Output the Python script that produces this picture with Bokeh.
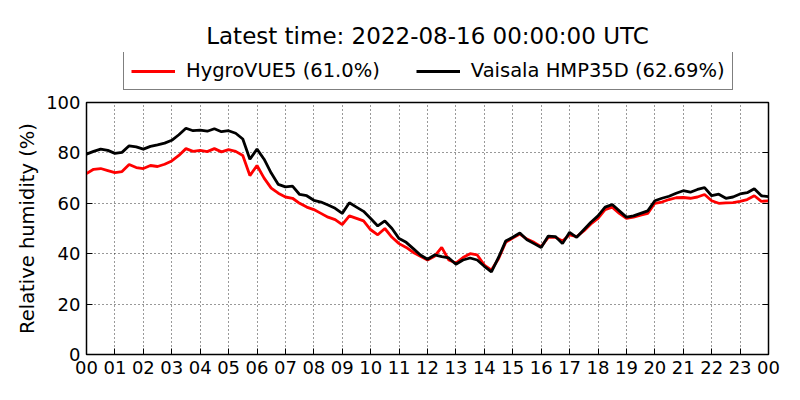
import numpy as np
from bokeh.plotting import figure
from bokeh.layouts import column
from bokeh.models import (Legend, LegendItem, FixedTicker, ColumnDataSource,
                          LinearAxis)
from bokeh.embed import file_html
from bokeh.resources import INLINE

title_text = "Latest time: 2022-08-16 00:00:00 UTC"
y_label = "Relative humidity (%)"
series_names = ["HygroVUE5 (61.0%)", "Vaisala HMP35D (62.69%)"]
series_colors = ["#ff0000", "black"]
x_tick_hours = list(range(0, 25))
x_tick_labels = ["%02d" % (h % 24) for h in x_tick_hours]
y_ticks = [0, 20, 40, 60, 80, 100]

# hour of day, 15-minute steps
hours = np.linspace(0, 24, 97)

hygrovue5 = [
    71.8, 73.5, 73.8, 73.0, 72.2, 72.6, 75.4, 74.2, 73.8, 75.0, 74.6, 75.5,
    76.8, 79.0, 81.7, 80.6, 81.0, 80.5, 81.7, 80.4, 81.3, 80.6, 79.0, 71.0,
    75.0, 70.0, 66.0, 64.0, 62.5, 62.0, 60.0, 58.5, 57.5, 56.0, 54.5, 53.5,
    51.5, 55.0, 54.0, 53.0, 49.5, 47.5, 50.0, 46.5, 44.0, 42.5, 40.5, 39.0,
    37.5, 39.0, 42.5, 37.5, 36.3, 38.5, 40.0, 39.5, 35.5, 33.5, 38.0, 44.5,
    46.2, 47.8, 45.8, 44.5, 42.8, 46.5, 46.5, 45.0, 47.5, 46.8, 49.0, 51.8,
    54.0, 57.5, 58.5, 56.0, 54.0, 54.5, 55.3, 56.0, 60.0, 60.5, 61.5, 62.2,
    62.3, 62.0, 62.5, 63.5, 61.0, 60.0, 60.2, 60.3, 60.8, 61.5, 63.0, 60.8,
    61.0,
]

hmp35d = [
    79.5, 80.6, 81.5, 81.0, 79.8, 80.2, 82.8, 82.4, 81.5, 82.6, 83.2, 83.9,
    85.0, 87.2, 89.8, 88.8, 89.0, 88.6, 89.6, 88.4, 88.8, 87.8, 85.5, 77.5,
    81.5, 77.5, 72.0, 67.5, 66.5, 66.8, 63.5, 63.0, 61.2, 60.5, 59.3, 58.0,
    56.0, 60.2, 58.5, 56.8, 54.0, 51.0, 53.0, 50.0, 46.0, 44.5, 42.0, 39.5,
    37.8, 39.5, 38.8, 38.3, 35.8, 37.5, 38.3, 37.5, 35.0, 32.8, 38.5, 45.0,
    46.5, 48.2, 45.5, 44.0, 42.5, 47.0, 46.8, 44.0, 48.5, 46.5, 49.5, 52.5,
    55.0, 58.5, 59.5, 57.0, 54.5, 55.0, 56.0, 57.0, 61.0, 62.0, 62.8, 64.0,
    65.0, 64.4, 65.5, 66.2, 63.0, 63.6, 62.0, 62.5, 63.7, 64.2, 65.8, 63.0,
    62.69,
]

FONT = "DejaVu Sans"
LW = 2.8

src = ColumnDataSource(dict(h=hours, a=hygrovue5, b=hmp35d))

# ---------------- header figure: title + legend ----------------
head = figure(
    output_backend="svg", toolbar_location=None,
    frame_width=682, frame_height=40,
    min_border_left=86, min_border_right=32,
    min_border_top=52, min_border_bottom=0,
    x_range=(0, 1), y_range=(0, 1),
    x_axis_type=None, y_axis_type=None,
    title=title_text,
)
head.outline_line_color = None
head.xgrid.visible = False
head.ygrid.visible = False
head.background_fill_color = "white"
head.border_fill_color = "white"
head.title.align = "center"
head.title.text_font = FONT
head.title.text_font_size = "23px"
head.title.text_font_style = "normal"
head.title.text_color = "black"
head.title.offset = 0
head.title.standoff = 8

# legend-only renderers (data lies outside this header's ranges)
lr = [head.line("h", col, source=src, line_color=c, line_width=LW)
      for col, c in zip(["a", "b"], series_colors)]
legend = Legend(
    items=[LegendItem(label=n, renderers=[r]) for n, r in zip(series_names, lr)],
    orientation="horizontal", location=(37, 2),
    label_text_font=FONT, label_text_font_size="19.5px",
    label_text_color="black",
    border_line_color="black", border_line_width=1.2,
    background_fill_color="white", background_fill_alpha=1,
    glyph_width=44, glyph_height=20, label_height=20,
    label_standoff=11, spacing=36,
    padding=7, margin=0,
)
head.add_layout(legend, "center")

# ---------------- main figure ----------------
p = figure(
    output_backend="svg", toolbar_location=None,
    frame_width=682, frame_height=252,
    min_border_left=86, min_border_right=32,
    min_border_top=10, min_border_bottom=46,
    x_range=(0, 24), y_range=(0, 100),
)
p.background_fill_color = "white"
p.border_fill_color = "white"
p.outline_line_color = "black"
p.outline_line_width = 1.5

p.line("h", "a", source=src, line_color=series_colors[0], line_width=LW)
p.line("h", "b", source=src, line_color=series_colors[1], line_width=LW)

xt = FixedTicker(ticks=x_tick_hours)
yt = FixedTicker(ticks=y_ticks)
xa = p.xaxis[0]
ya = p.yaxis[0]
xa.ticker = xt
ya.ticker = yt
xa.major_label_overrides = {h: lab for h, lab in zip(x_tick_hours, x_tick_labels)}
for ax in (xa, ya):
    ax.major_tick_in = 6
    ax.major_tick_out = 0
    ax.minor_tick_line_color = None
    ax.axis_line_color = "black"
    ax.major_tick_line_color = "black"
    ax.major_label_text_font = FONT
    ax.major_label_text_font_size = "18px"
    ax.major_label_text_color = "black"
xa.major_label_standoff = 6
ya.major_label_standoff = 6
ya.axis_label = y_label
ya.axis_label_text_font = FONT
ya.axis_label_text_font_size = "19.5px"
ya.axis_label_text_font_style = "normal"
ya.axis_label_text_color = "black"
ya.axis_label_standoff = 4

# mirrored ticks on the right side (no labels)
ra = LinearAxis(ticker=yt, major_tick_in=6, major_tick_out=0,
                minor_tick_line_color=None, axis_line_color="black",
                major_label_overrides={t: "" for t in y_ticks},
                major_label_standoff=0)
p.add_layout(ra, "right")

for g in (p.xgrid[0], p.ygrid[0]):
    g.grid_line_color = "black"
    g.grid_line_dash = "1 3"
    g.grid_line_width = 1
    g.grid_line_alpha = 0.8
p.xgrid[0].ticker = xt
p.ygrid[0].ticker = yt

layout = column(head, p, spacing=0)
open("out.html", "w").write(file_html(layout, INLINE))
